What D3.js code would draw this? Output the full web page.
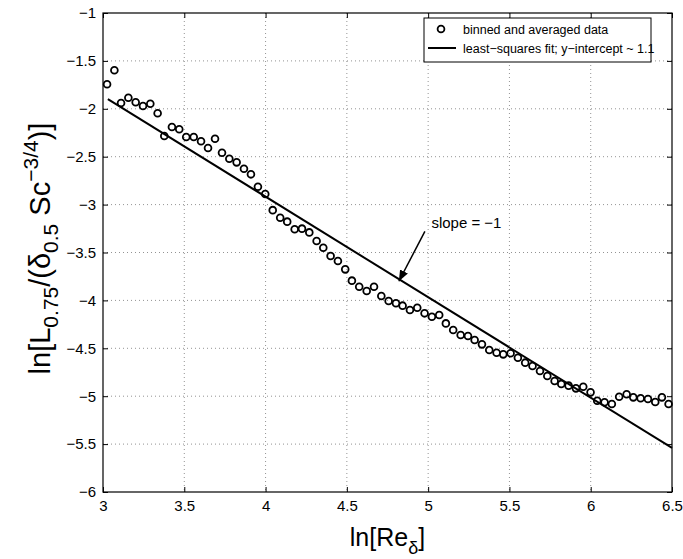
<!DOCTYPE html>
<html><head><meta charset="utf-8">
<script src="https://cdn.jsdelivr.net/npm/d3@7"></script>
<style>
body{margin:0;background:#fff;}
text{font-family:"Liberation Sans",Arial,Helvetica,sans-serif;fill:#000;}
</style></head>
<body><svg id="c" width="683" height="559"></svg>
<script>
const dataX = [3.025,3.07,3.111,3.156,3.201,3.246,3.291,3.336,3.377,3.424,3.469,3.512,3.558,3.603,3.646,3.689,3.732,3.777,3.822,3.867,3.910,3.953,3.998,4.044,4.09,4.133,4.179,4.224,4.269,4.314,4.355,4.40,4.445,4.49,4.531,4.576,4.622,4.667,4.712,4.757,4.802,4.843,4.888,4.933,4.978,5.023,5.068,5.109,5.154,5.20,5.245,5.286,5.331,5.376,5.421,5.462,5.507,5.552,5.597,5.642,5.688,5.733,5.778,5.819,5.864,5.909,5.954,5.999,6.04,6.085,6.13,6.175,6.221,6.262,6.307,6.352,6.397,6.438,6.479];
const dataY = [-1.744,-1.598,-1.939,-1.884,-1.932,-1.971,-1.947,-2.047,-2.284,-2.19,-2.214,-2.294,-2.294,-2.339,-2.409,-2.312,-2.458,-2.521,-2.559,-2.625,-2.684,-2.813,-2.889,-3.058,-3.138,-3.178,-3.258,-3.251,-3.29,-3.38,-3.45,-3.537,-3.589,-3.676,-3.794,-3.857,-3.902,-3.857,-3.954,-4.006,-4.03,-4.055,-4.10,-4.076,-4.135,-4.17,-4.152,-4.24,-4.309,-4.361,-4.372,-4.413,-4.459,-4.518,-4.546,-4.563,-4.552,-4.598,-4.65,-4.685,-4.737,-4.789,-4.841,-4.873,-4.89,-4.918,-4.901,-4.96,-5.047,-5.064,-5.081,-5.005,-4.98,-5.012,-5.022,-5.03,-5.06,-5.012,-5.081];
const fitX = [3.03, 6.5];
const fitY = [-1.90, -5.54];
const xTicks = [3,3.5,4,4.5,5,5.5,6,6.5];
const yTicks = [-1,-1.5,-2,-2.5,-3,-3.5,-4,-4.5,-5,-5.5,-6];
const legendLabels = ["binned and averaged data","least\u2212squares fit; y\u2212intercept ~ 1.1"];
const annotation = "slope = \u22121";
const arrowFrom = [4.98, -3.28];
const arrowTo = [4.82, -3.80];
const annotationAt = [5.02, -3.24];

const L=103,R=672,T=13,B=492;
const svg=d3.select("#c");
const x=d3.scaleLinear().domain([3,6.5]).range([L,R]);
const y=d3.scaleLinear().domain([-6,-1]).range([B,T]);
const fmt=d=>String(d).replace("-","\u2212");

// grid
const g=svg.append("g");
g.selectAll(".gx").data(xTicks.slice(1,-1)).join("line")
 .attr("x1",d=>x(d)).attr("x2",d=>x(d)).attr("y1",T).attr("y2",B)
 .attr("stroke","#777").attr("stroke-width",0.8).attr("stroke-dasharray","1,3");
g.selectAll(".gy").data(yTicks.slice(1,-1)).join("line")
 .attr("y1",d=>y(d)).attr("y2",d=>y(d)).attr("x1",L).attr("x2",R)
 .attr("stroke","#777").attr("stroke-width",0.8).attr("stroke-dasharray","1,3");

// axes
const ax=svg.append("g").attr("transform",`translate(0,${B})`)
 .call(d3.axisBottom(x).tickValues(xTicks).tickSize(-5).tickPadding(8).tickFormat(fmt));
const axT=svg.append("g").attr("transform",`translate(0,${T})`)
 .call(d3.axisTop(x).tickValues(xTicks).tickSize(-5).tickFormat(""));
const ay=svg.append("g").attr("transform",`translate(${L},0)`)
 .call(d3.axisLeft(y).tickValues(yTicks).tickSize(-5).tickPadding(7).tickFormat(fmt));
const ayR=svg.append("g").attr("transform",`translate(${R},0)`)
 .call(d3.axisRight(y).tickValues(yTicks).tickSize(-5).tickFormat(""));
[ax,axT,ay,ayR].forEach(a=>{
  a.select(".domain").remove();
  a.selectAll("line").attr("stroke","#000").attr("stroke-width",1);
  a.selectAll("text").style("font-family",'"Liberation Sans",Arial,sans-serif').attr("font-size",15).attr("fill","#000");
});
svg.append("rect").attr("x",L).attr("y",T).attr("width",R-L).attr("height",B-T)
 .attr("fill","none").attr("stroke","#000").attr("stroke-width",1.2);

// fit line
svg.append("line").attr("x1",x(fitX[0])).attr("y1",y(fitY[0])).attr("x2",x(fitX[1])).attr("y2",y(fitY[1]))
 .attr("stroke","#000").attr("stroke-width",2);

// points
svg.append("g").selectAll("circle").data(dataX.map((d,i)=>[d,dataY[i]])).join("circle")
 .attr("cx",d=>x(d[0])).attr("cy",d=>y(d[1])).attr("r",3.4)
 .attr("fill","none").attr("stroke","#000").attr("stroke-width",1.8);

// annotation arrow
svg.append("defs").append("marker").attr("id","ah").attr("viewBox","0 0 10 10").attr("refX",10).attr("refY",5)
 .attr("markerWidth",11).attr("markerHeight",11).attr("markerUnits","userSpaceOnUse").attr("orient","auto")
 .append("path").attr("d","M0,1 L10,5 L0,9 Z").attr("fill","#000");
svg.append("line").attr("x1",x(arrowFrom[0])).attr("y1",y(arrowFrom[1])).attr("x2",x(arrowTo[0])).attr("y2",y(arrowTo[1]))
 .attr("stroke","#000").attr("stroke-width",1.5).attr("marker-end","url(#ah)");
svg.append("text").attr("x",x(annotationAt[0])).attr("y",y(annotationAt[1])).attr("font-size",15).text(annotation);

// legend
const lg=svg.append("g");
lg.append("rect").attr("x",424).attr("y",18).attr("width",227).attr("height",44)
 .attr("fill","#fff").attr("stroke","#000").attr("stroke-width",1);
lg.append("circle").attr("cx",441).attr("cy",29).attr("r",3.4).attr("fill","none").attr("stroke","#000").attr("stroke-width",1.8);
lg.append("line").attr("x1",428).attr("x2",456).attr("y1",48).attr("y2",48).attr("stroke","#000").attr("stroke-width",2);
lg.selectAll("text").data(legendLabels).join("text")
 .attr("x",463).attr("y",(d,i)=>34+i*19).attr("font-size",12.5).text(d=>d);

// axis labels
const xl=svg.append("text").attr("x",(L+R)/2).attr("y",546).attr("text-anchor","middle").attr("font-size",25);
xl.append("tspan").text("ln[Re");
xl.append("tspan").attr("dy",8).attr("font-size",18).text("\u03b4");
xl.append("tspan").attr("dy",-8).text("]");

const yl=svg.append("text").attr("transform",`translate(50,${(T+B)/2 - 4}) rotate(-90)`).attr("text-anchor","middle").attr("font-size",29);
yl.append("tspan").text("ln[L");
yl.append("tspan").attr("dy",8).attr("font-size",21).text("0.75");
yl.append("tspan").attr("dy",-8).text("/(\u03b4");
yl.append("tspan").attr("dy",8).attr("font-size",21).text("0.5");
yl.append("tspan").attr("dy",-8).text(" Sc");
yl.append("tspan").attr("dy",-12).attr("font-size",21).text("\u22123/4");
yl.append("tspan").attr("dy",12).text(")]");
</script></body></html>
